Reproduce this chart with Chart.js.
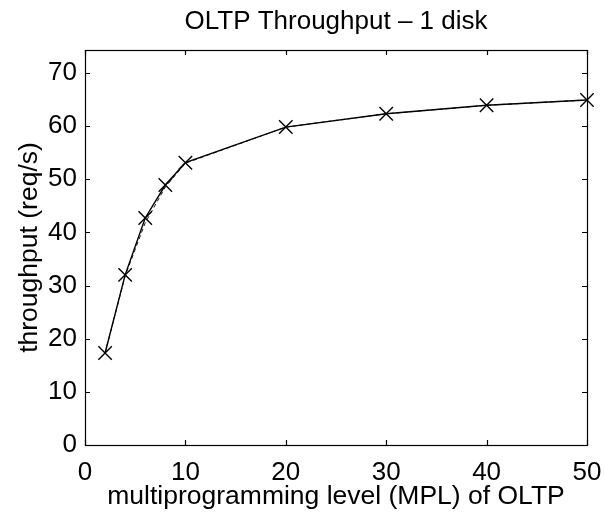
<!DOCTYPE html>
<html>
<head>
<meta charset="utf-8">
<script src="https://cdn.jsdelivr.net/npm/chart.js@4/dist/chart.umd.min.js"></script>
<style>
  body { margin: 0; background: #fff; }
  canvas { display: block; }
</style>
</head>
<body>
<canvas id="oltp" width="604" height="517"></canvas>
<script>
// OLTP throughput vs MPL, 1 disk

const mpl = [2, 4, 6, 8, 10, 20, 30, 40, 50];
const throughput = [17.3, 32, 42.7, 48.9, 53.1, 59.8, 62.3, 63.9, 64.9];
const throughputRun2 = [17.3, 31.8, 41.8, 48.5, 53.0, 59.8, 62.3, 63.9, 64.9];
const xTicks = [0, 10, 20, 30, 40, 50];
const yTicks = [0, 10, 20, 30, 40, 50, 60, 70];
const chartTitle = "OLTP Throughput \u2013 1 disk";

const font = "'Liberation Sans', Arial, Helvetica, sans-serif";

// matlab style box with inward ticks + title centred on the axes
const boxPlugin = {
    id: "matlabBox",
    beforeDatasetsDraw(chart) {
        const { ctx, chartArea: a, scales } = chart;
        ctx.save();
        ctx.strokeStyle = "#000";
        ctx.lineWidth = 1.2;
        ctx.strokeRect(a.left + 0.5, a.top + 0.5, a.right - a.left, a.bottom - a.top);
        ctx.beginPath();
        xTicks.forEach(v => {
            const px = Math.round(scales.x.getPixelForValue(v)) + 0.5;
            ctx.moveTo(px, a.bottom);
            ctx.lineTo(px, a.bottom - 5);
            ctx.moveTo(px, a.top);
            ctx.lineTo(px, a.top + 5);
        });
        yTicks.forEach(v => {
            const py = Math.round(scales.y.getPixelForValue(v)) + 0.5;
            ctx.moveTo(a.left, py);
            ctx.lineTo(a.left + 5, py);
            ctx.moveTo(a.right, py);
            ctx.lineTo(a.right - 5, py);
        });
        ctx.stroke();

        ctx.fillStyle = "#000";
        ctx.font = "26px " + font;
        ctx.textAlign = "center";
        ctx.textBaseline = "middle";
        ctx.fillText(chartTitle, (a.left + a.right) / 2, 22);
        ctx.restore();
    }
};

const config = {
    type: "line",
    data: {
        labels: mpl,
        datasets: [{
            label: "run 2",
            data: mpl.map((m, i) => ({ x: m, y: throughputRun2[i] })),
            borderColor: "#000",
            borderWidth: 0.9,
            borderDash: [4, 3],
            pointRadius: 0,
            fill: false,
            clip: false,
        }, {
            label: "throughput",
            data: mpl.map((m, i) => ({ x: m, y: throughput[i] })),
            borderColor: "#000",
            borderWidth: 1.4,
            pointStyle: "crossRot",
            pointRadius: 9.5,
            pointBorderWidth: 1.4,
            pointBorderColor: "#000",
            pointBackgroundColor: "#000",
            fill: false,
            clip: false,
        }]
    },
    options: {
        responsive: false,
        animation: false,
        devicePixelRatio: 1,
        layout: {
            padding: { left: 0, right: 17, top: 50, bottom: 0 }
        },
        plugins: {
            legend: { display: false },
            tooltip: { enabled: false },
            title: { display: false }
        },
        scales: {
            x: {
                type: "linear",
                min: 0,
                max: 50,
                afterFit: s => { s.height = 72; s.paddingLeft = 0; s.paddingRight = 0; },
                afterBuildTicks: s => { s.ticks = xTicks.map(v => ({ value: v })); },
                grid: { display: false, drawTicks: false },
                border: { display: false },
                ticks: {
                    color: "#000",
                    padding: 12,
                    maxRotation: 0,
                    font: { family: font, size: 26 }
                },
                title: {
                    display: true,
                    text: "multiprogramming level (MPL) of OLTP",
                    color: "#000",
                    font: { family: font, size: 26.5 },
                    padding: { top: 0, bottom: 4 }
                }
            },
            y: {
                type: "linear",
                min: 0,
                max: 74.3,
                afterFit: s => { s.width = 85; s.paddingTop = 0; s.paddingBottom = 0; },
                afterBuildTicks: s => { s.ticks = yTicks.map(v => ({ value: v })); },
                grid: { display: false, drawTicks: false },
                border: { display: false },
                ticks: {
                    color: "#000",
                    padding: 8,
                    font: { family: font, size: 26 }
                },
                title: {
                    display: true,
                    text: "throughput (req/s)",
                    color: "#000",
                    font: { family: font, size: 26.5 },
                    padding: { top: 14, bottom: 0 }
                }
            }
        }
    },
    plugins: [boxPlugin]
};

new Chart(document.getElementById("oltp").getContext("2d"), config);
</script>
</body>
</html>
